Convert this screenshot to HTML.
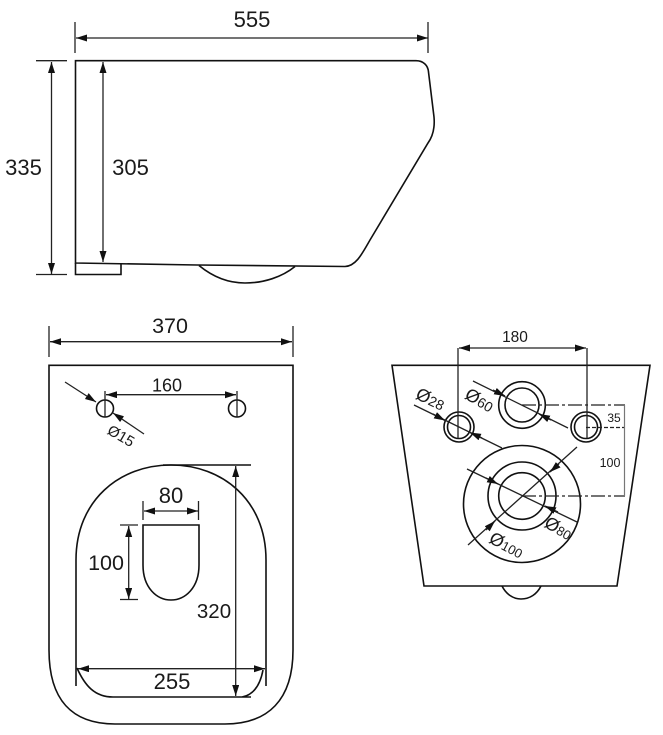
<!DOCTYPE html>
<html><head><meta charset="utf-8"><style>
html,body{margin:0;padding:0;background:#fff}
svg{display:block}
text{font-family:"Liberation Sans",sans-serif;fill:#1a1a1a;text-anchor:middle}
.o{fill:none;stroke:#111;stroke-width:1.6}
.d{fill:none;stroke:#222;stroke-width:1.3}
</style></head><body>
<svg width="663" height="735" viewBox="0 0 663 735" xmlns="http://www.w3.org/2000/svg">
<defs>
<marker id="a" markerUnits="userSpaceOnUse" markerWidth="12" markerHeight="8" refX="11" refY="3.5" orient="auto-start-reverse"><path d="M0,0L11,3.5L0,7Z" fill="#111"/></marker>
</defs>
<rect width="663" height="735" fill="#fff"/>

<!-- Side view -->
<path class="o" d="M75.500,60.700H416C423,60.700 428,65 428.500,72L434,117C435,128 433,136 428,143L370,240C362,254 356,266 345,266.500L197,265L75.500,263Z"/>
<path class="o" d="M75.500,263V274.500H121V264.500"/>
<path class="o" stroke-width="1.2" d="M199,265.500C213,277 228,283 245,283C264,283 282,277 295,266.500"/>
<path class="d" d="M75,22V53M428,22V53M36,60.700H67M36,274.500H67"/>
<path class="d" marker-start="url(#a)" marker-end="url(#a)" d="M76,38H428"/>
<path class="d" marker-start="url(#a)" marker-end="url(#a)" d="M51.500,62V274"/>
<path class="d" marker-start="url(#a)" marker-end="url(#a)" d="M103,62V262"/>
<text x="252" y="27" font-size="22">555</text>
<text x="23.500" y="175" font-size="22">335</text>
<text x="130.500" y="175" font-size="22">305</text>

<!-- Front view -->
<path class="o" d="M49,365.300H293V650C293,700 268,724 225,724H115C72,724 49,700 49,650Z"/>
<path class="o" d="M76,686V560C76,500 120,465 171,465C222,465 266,500 266,560V686"/>
<path class="o" d="M163,465H251M77,668C85,686 95,697 113,697H251M263,670C260,686 253,695 242,697"/>
<path class="o" d="M143,525H199V565C199,588 185,600 171,600C157,600 143,588 143,565Z"/>
<circle class="o" cx="105" cy="408.500" r="8.500"/>
<circle class="o" cx="237" cy="408.500" r="8.500"/>
<path class="d" d="M49,326V357M293,326V357M105,391V417M237,391V417M143,501V520M198.500,501V520M120,525H138M120,599.500H138"/>
<path class="d" marker-start="url(#a)" marker-end="url(#a)" d="M50,341.700H292"/>
<path class="d" marker-start="url(#a)" marker-end="url(#a)" d="M106,394.700H236"/>
<path class="d" marker-start="url(#a)" marker-end="url(#a)" d="M144,511H198"/>
<path class="d" marker-start="url(#a)" marker-end="url(#a)" d="M128.700,526V599"/>
<path class="d" marker-start="url(#a)" marker-end="url(#a)" d="M78,668.700H265"/>
<path class="d" marker-start="url(#a)" marker-end="url(#a)" d="M235.700,466V696"/>
<path class="d" marker-end="url(#a)" d="M65,382L96,402"/>
<path class="d" marker-end="url(#a)" d="M144,434L113,413"/>
<text x="170" y="333" font-size="21.500">370</text>
<text x="167" y="391.500" font-size="18">160</text>
<text x="171" y="503" font-size="22">80</text>
<text x="106" y="570" font-size="21.500">100</text>
<text x="214" y="618" font-size="20.500">320</text>
<text x="172" y="689" font-size="22">255</text>
<text x="121" y="441" font-size="15" transform="rotate(30 121 436)">Ø15</text>

<!-- Rear view -->
<path class="o" d="M392,365.300H650L617,586H424Z"/>
<path class="o" stroke-width="1.2" d="M502,586C506,594 513,599 521,599C530,599 537,594 541,586"/>
<circle class="o" cx="459" cy="427" r="15"/><circle class="o" cx="459" cy="427" r="11.500"/>
<circle class="o" cx="586" cy="427" r="15"/><circle class="o" cx="586" cy="427" r="11.500"/>
<circle class="o" cx="522" cy="405" r="23.300"/><circle class="o" cx="522" cy="405" r="17"/>
<circle class="o" cx="522" cy="504" r="58.500"/>
<circle class="o" cx="522" cy="496" r="34"/>
<circle class="o" cx="522" cy="496" r="23.300"/>
<path class="d" d="M458,348V438M587,348V438"/>
<path class="d" marker-start="url(#a)" marker-end="url(#a)" d="M459,348H586"/>
<path class="d" stroke-dasharray="14,3,3,3" d="M522,405H625M522,496H625"/>
<path class="d" stroke-dasharray="4,2" d="M586,427.500H625"/>
<path fill="none" stroke="#777" stroke-width="1.200" d="M624.500,405V496"/>
<path class="d" d="M414,405L502,448M473,381L568,428M467,469L577,522M577,447L468,545"/>
<path class="d" marker-end="url(#a)" d="M433,414L445,420.500"/>
<path class="d" marker-end="url(#a)" d="M482,438L470,432.500"/>
<path class="d" marker-end="url(#a)" d="M493,390L505,396"/>
<path class="d" marker-end="url(#a)" d="M551,420L539,414"/>
<path class="d" marker-end="url(#a)" d="M486,478L498,484"/>
<path class="d" marker-end="url(#a)" d="M558,512L545,506"/>
<path class="d" marker-end="url(#a)" d="M559,464L550,472"/>
<path class="d" marker-end="url(#a)" d="M486,530L495,521"/>
<text x="515" y="342" font-size="15.500">180</text>
<text x="614" y="422" font-size="12">35</text>
<text x="610" y="467" font-size="12.500">100</text>
<text x="430" y="405" font-size="14" transform="rotate(25 430 400)"><tspan font-size="18">Ø</tspan>28</text>
<text x="479" y="406" font-size="14" transform="rotate(30 479 401)"><tspan font-size="18">Ø</tspan>60</text>
<text x="558" y="534" font-size="13" transform="rotate(30 558 529)"><tspan font-size="18">Ø</tspan>80</text>
<text x="506" y="551" font-size="13" transform="rotate(28 506 546)"><tspan font-size="18">Ø</tspan>100</text>
</svg>
</body></html>
